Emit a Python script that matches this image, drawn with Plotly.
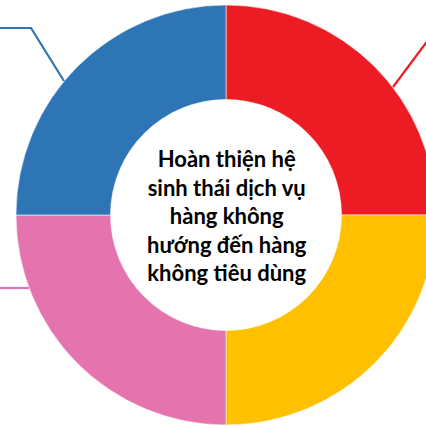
import plotly.graph_objects as go

# four equal segments of the ring, clockwise from 12 o'clock
segments = ["Đỏ", "Vàng", "Hồng", "Xanh"]
shares = [1, 1, 1, 1]
colors = ["#ED1C24", "#FFC000", "#E573AE", "#2E75B6"]

center_text = ["Hoàn thiện hệ", "sinh thái dịch vụ", "hàng không",
               "hướng đến hàng", "không tiêu dùng"]

W, H = 452, 428

def px(x):
    return x / W

def py(y):
    return 1 - y / H

fig = go.Figure(go.Pie(
    labels=segments,
    values=shares,
    hole=0.55,
    sort=False,
    direction="clockwise",
    rotation=0,
    textinfo="none",
    hoverinfo="label",
    marker=dict(colors=colors, line=dict(color="rgba(255,255,255,0.7)", width=0.8)),
    domain=dict(x=[0, 1], y=[py(425), py(5)]),
    showlegend=False,
))

# leader lines going out to the (cropped) labels
line_w = 2.2
fig.add_shape(type="path", xref="paper", yref="paper",
              path=f"M {px(0)},{py(28)} L {px(31)},{py(28)} L {px(64)},{py(81)}",
              line=dict(color="#2E75B6", width=line_w))
fig.add_shape(type="line", xref="paper", yref="paper",
              x0=px(393), y0=py(87), x1=px(470), y1=py(-16),
              line=dict(color="#ED1C24", width=line_w))
fig.add_shape(type="line", xref="paper", yref="paper",
              x0=px(0), y0=py(288), x1=px(29), y1=py(288),
              line=dict(color="#E573AE", width=line_w))

fig.add_annotation(
    text="<br>".join(f"<b>{t}</b>" for t in center_text),
    x=px(227), y=py(215), xref="paper", yref="paper",
    showarrow=False, align="center",
    font=dict(family="Lato", size=22, color="#000000"),
)

fig.update_layout(
    width=W, height=H,
    margin=dict(l=0, r=0, t=0, b=0),
    paper_bgcolor="white",
    plot_bgcolor="white",
)

fig.write_html(
    "out.html",
    config={"displayModeBar": False},
    post_script=("document.body.style.margin='0';"
                 "document.body.style.overflow='hidden';"
                 "document.documentElement.style.overflow='hidden';"),
)
